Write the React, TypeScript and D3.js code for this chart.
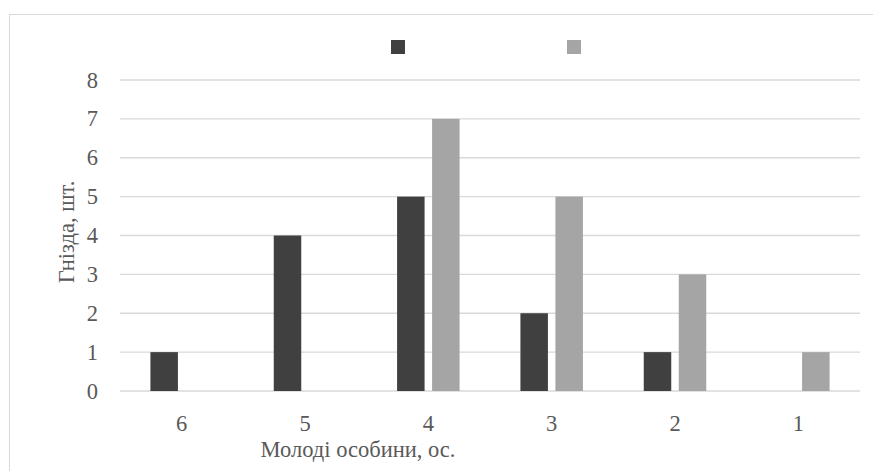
import React from "react";
import * as d3 from "d3";

const categories = ["6", "5", "4", "3", "2", "1"];
const seriesDark = [1, 4, 5, 2, 1, 0];
const seriesLight = [0, 0, 7, 5, 3, 1];
const yTicks = [0, 1, 2, 3, 4, 5, 6, 7, 8];
const xTitle = "Молоді особини, ос.";
const yTitle = "Гнізда, шт.";

const W = 873;
const H = 471;
const plot = { left: 120, right: 860, top: 80, bottom: 391 };
const DARK = "#404040";
const LIGHT = "#A5A5A5";
const GRID = "#D9D9D9";
const TEXT = "#595959";
const FONT = "Liberation Serif";
const FS = 22.5;

export default function App() {
  const x = d3.scaleBand<string>().domain(categories).range([plot.left, plot.right]);
  const y = d3.scaleLinear().domain([0, 8]).range([plot.bottom, plot.top]);
  const barW = 27.5;
  const gap = 7.5;

  return (
    <svg
      width={W}
      height={H}
      style={{ position: "absolute", left: 0, top: 0, background: "#fff" }}
    >
      <rect x={9.5} y={14.5} width={900} height={500} fill="#fff" stroke={GRID} strokeWidth={1} />

      {yTicks.map((t) => (
        <g key={t}>
          <line x1={plot.left} x2={plot.right} y1={y(t)} y2={y(t)} stroke={GRID} strokeWidth={1.3} />
          <text x={98} y={y(t) + 7.5} textAnchor="end" fontFamily={FONT} fontSize={FS} fill={TEXT}>
            {t}
          </text>
        </g>
      ))}

      {categories.map((c, i) => {
        const cx = (x(c) ?? 0) + x.bandwidth() / 2;
        return (
          <g key={c}>
            {seriesDark[i] > 0 && (
              <rect
                x={cx - gap / 2 - barW}
                y={y(seriesDark[i])}
                width={barW}
                height={y(0) - y(seriesDark[i])}
                fill={DARK}
              />
            )}
            {seriesLight[i] > 0 && (
              <rect
                x={cx + gap / 2}
                y={y(seriesLight[i])}
                width={barW}
                height={y(0) - y(seriesLight[i])}
                fill={LIGHT}
              />
            )}
            <text x={cx} y={431} textAnchor="middle" fontFamily={FONT} fontSize={FS} fill={TEXT}>
              {c}
            </text>
          </g>
        );
      })}

      <text x={358} y={457} textAnchor="middle" fontFamily={FONT} fontSize={FS} fill={TEXT}>
        {xTitle}
      </text>
      <text
        transform="translate(74, 232) rotate(-90)"
        textAnchor="middle"
        fontFamily={FONT}
        fontSize={FS}
        fill={TEXT}
      >
        {yTitle}
      </text>

      <rect x={391} y={40} width={14} height={14} fill={DARK} />
      <rect x={567} y={40} width={14} height={14} fill={LIGHT} />
    </svg>
  );
}
